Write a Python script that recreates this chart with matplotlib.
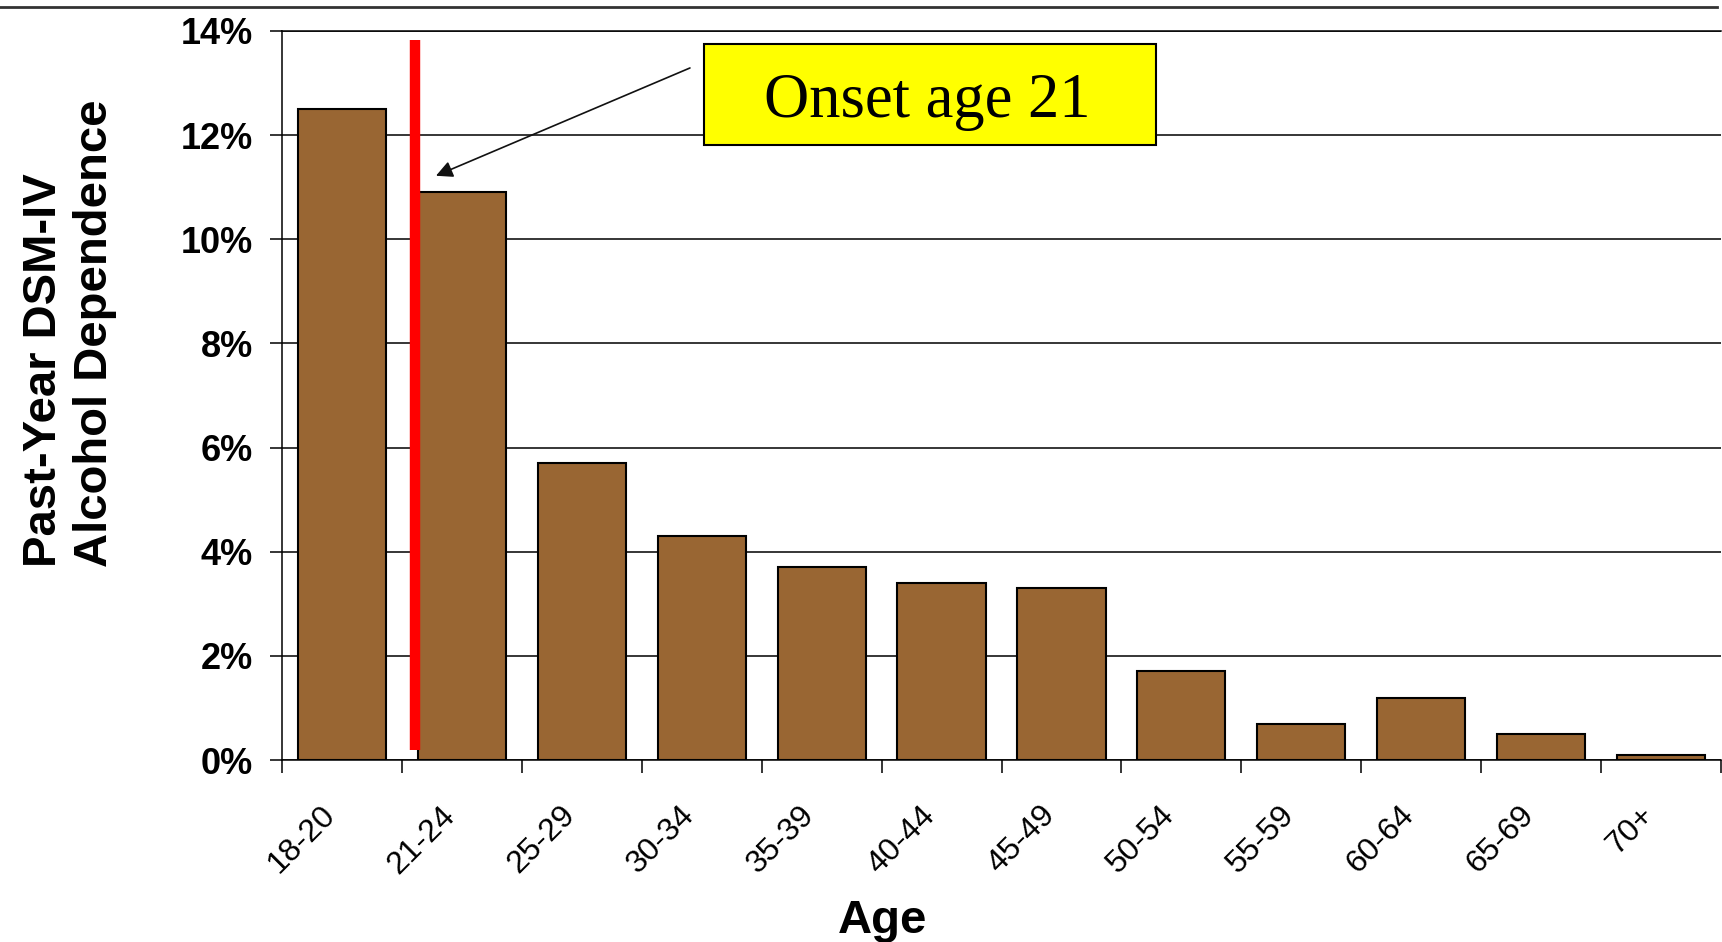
import numpy as np
import matplotlib
matplotlib.use("Agg")
import matplotlib.pyplot as plt
from matplotlib.transforms import ScaledTranslation
from matplotlib.patches import Rectangle
from matplotlib.lines import Line2D

# ---- data ----
age_groups = ['18-20', '21-24', '25-29', '30-34', '35-39', '40-44',
              '45-49', '50-54', '55-59', '60-64', '65-69', '70+']
dependence_pct = [12.5, 10.9, 5.7, 4.3, 3.7, 3.4, 3.3, 1.7, 0.7, 1.2, 0.5, 0.1]
y_ticks = [0, 2, 4, 6, 8, 10, 12, 14]
y_tick_labels = [f'{t}%' for t in y_ticks]
onset_label = 'Onset age 21'
y_label = 'Past-Year DSM-IV\nAlcohol Dependence'
x_label = 'Age'

plt.rcParams['font.family'] = ['Liberation Sans', 'DejaVu Sans']

W, H = 1722, 942
fig = plt.figure(figsize=(W / 100, H / 100), dpi=100)
ax = fig.add_axes([282 / W, 182 / H, 1439 / W, 729 / H])

x = np.arange(len(age_groups))
ax.bar(x, dependence_pct, width=0.735, color='#996633',
       edgecolor='black', linewidth=1.5, zorder=3)

ax.set_xlim(-0.5, len(age_groups) - 0.5)
ax.set_ylim(0, 14)

# y axis
ax.set_yticks(y_ticks)
ax.set_yticklabels(y_tick_labels, fontsize=26, fontweight='bold')
ax.yaxis.grid(True, color='black', linewidth=1.1)
ax.set_axisbelow(True)
ax.tick_params(axis='y', direction='out', length=9, width=1.1, pad=12)

for s in ['right']:
    ax.spines[s].set_visible(False)
for s in ['left', 'bottom', 'top']:
    ax.spines[s].set_linewidth(1.1)
    ax.spines[s].set_color('black')

# x axis: ticks at category boundaries, labels at centers
boundaries = np.arange(len(age_groups) + 1) - 0.5
ax.set_xticks(boundaries, [''] * len(boundaries))
ax.tick_params(axis='x', which='major', direction='out', length=9, width=1.1)
ax.set_xticks(x, age_groups, minor=True)
ax.tick_params(axis='x', which='minor', length=0, pad=29, labelsize=23)
offset = ScaledTranslation(-0.22, 0, fig.dpi_scale_trans)
for lab in ax.get_xticklabels(minor=True):
    lab.set_rotation(45)
    lab.set_ha('right')
    lab.set_va('top')
    lab.set_rotation_mode('anchor')
    lab.set_transform(lab.get_transform() + offset)

# axis labels
ax.set_ylabel(y_label, fontsize=34, fontweight='bold', linespacing=1.2,
              multialignment='left', ha='left')
ax.yaxis.set_label_coords(-0.1147, 0.2647)
ax.set_xlabel(x_label, fontsize=34, fontweight='bold', va='baseline')
ax.xaxis.set_label_coords(0.417, -0.237)

# onset marker line
ax.vlines(0.61, 0.19, 13.83, color='#FF0000', linewidth=7.5, zorder=4)

# annotation box
ax.add_patch(Rectangle((3.02, 11.81), 3.77, 1.94, facecolor='#FFFF00',
                       edgecolor='black', linewidth=1.5, zorder=5))
ax.text(4.883, 12.35, onset_label, ha='center', va='baseline',
        family='Liberation Serif', fontsize=45, zorder=6)
ax.annotate('', xy=(0.784, 11.22), xytext=(2.902, 13.29),
            arrowprops=dict(arrowstyle='-|>', color='#111111', lw=1.2,
                            mutation_scale=25, shrinkA=0, shrinkB=0),
            zorder=6)

# top rule
fig.add_artist(Line2D([0, 1717 / W], [1 - 7 / H, 1 - 7 / H], color='#333333',
                      linewidth=2, transform=fig.transFigure))

fig.savefig('out.png', dpi=100)
